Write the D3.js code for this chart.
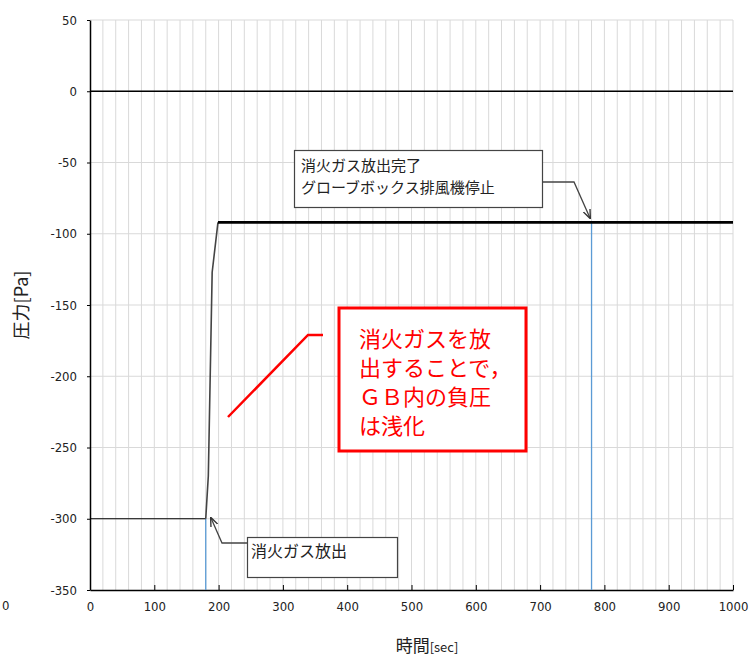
<!DOCTYPE html>
<html>
<head>
<meta charset="utf-8">
<script src="https://cdn.jsdelivr.net/npm/d3@7"></script>
<style>
  body { margin: 0; background: #fff; }
  .num { font-family: "DejaVu Sans Condensed", "Liberation Sans Narrow", "DejaVu Sans", sans-serif; font-stretch: condensed; }
  .jp { font-family: "Noto Sans CJK JP", sans-serif; }
</style>
</head>
<body>
<div id="chart"></div>
<script>
// data
var xTicks = [0, 100, 200, 300, 400, 500, 600, 700, 800, 900, 1000];
var yTicks = [50, 0, -50, -100, -150, -200, -250, -300, -350];

var zeroLine = [[0, 0], [1000, 0]];
var beforeRelease = [[0, -300], [180, -300]];
var releasePhase = [[180, -300], [184, -270], [190, -127], [199, -92]];
var afterRelease = [[199, -92], [1000, -92]];
var markerTimes = [180, 780];
var markerTop = [-300, -92];

var width = 751, height = 658;
var margin = { top: 20, right: 18, bottom: 68, left: 90 };

var svg = d3.select("#chart").append("svg")
    .attr("width", width)
    .attr("height", height);

var x = d3.scaleLinear().domain([0, 1000]).range([margin.left, width - margin.right]);
var y = d3.scaleLinear().domain([-350, 50]).range([height - margin.bottom, margin.top]);

var plain = d => String(d); // hyphen minus, no thousands comma

// grid
svg.append("g")
    .selectAll("line")
    .data(d3.range(20, 1001, 20))
    .enter().append("line")
    .attr("x1", d => x(d)).attr("x2", d => x(d))
    .attr("y1", y(-350)).attr("y2", y(50))
    .attr("stroke", "#d9d9d9")
    .attr("stroke-width", 1);

svg.append("g")
    .selectAll("line")
    .data(d3.range(-300, 51, 50))
    .enter().append("line")
    .attr("x1", x(0)).attr("x2", x(1000))
    .attr("y1", d => y(d)).attr("y2", d => y(d))
    .attr("stroke", "#d9d9d9")
    .attr("stroke-width", 1);

// axes
var xAxis = svg.append("g")
    .attr("transform", "translate(0," + y(-350) + ")")
    .call(d3.axisBottom(x).tickValues(xTicks).tickFormat(plain).tickSize(-5).tickPadding(12).tickSizeOuter(0));
xAxis.select(".domain").attr("stroke", "#000").attr("stroke-width", 1.5);
xAxis.selectAll(".tick line").attr("stroke", "#000");
xAxis.selectAll("text").attr("class", "num").attr("font-size", "13px").attr("fill", "#222");

var yAxis = svg.append("g")
    .attr("transform", "translate(" + x(0) + ",0)")
    .call(d3.axisLeft(y).tickValues(yTicks).tickFormat(plain).tickSize(3).tickPadding(10).tickSizeOuter(0));
yAxis.select(".domain").attr("stroke", "#000").attr("stroke-width", 1.5);
yAxis.selectAll(".tick line").attr("stroke", "#000");
yAxis.selectAll("text").attr("class", "num").attr("font-size", "13px").attr("fill", "#222");

// stray clipped label at the far left
svg.append("text")
    .attr("class", "num")
    .attr("x", 2).attr("y", 610)
    .attr("font-size", "13px").attr("fill", "#222")
    .text("0");

// series
var line = d3.line().x(d => x(d[0])).y(d => y(d[1]));

svg.append("path").datum(zeroLine).attr("d", line)
    .attr("fill", "none").attr("stroke", "#000").attr("stroke-width", 1.3);

svg.selectAll(".marker")
    .data(markerTimes)
    .enter().append("line")
    .attr("class", "marker")
    .attr("x1", d => x(d)).attr("x2", d => x(d))
    .attr("y1", (d, i) => y(markerTop[i])).attr("y2", y(-350))
    .attr("stroke", "#5b9bd5").attr("stroke-width", 1.3);

svg.append("path").datum(beforeRelease).attr("d", line)
    .attr("fill", "none").attr("stroke", "#000").attr("stroke-width", 1.2);
svg.append("path").datum(releasePhase).attr("d", line)
    .attr("fill", "none").attr("stroke", "#444").attr("stroke-width", 1.6);
svg.append("path").datum(afterRelease).attr("d", line)
    .attr("fill", "none").attr("stroke", "#000").attr("stroke-width", 2.6);

// axis titles
svg.append("text")
    .attr("class", "jp")
    .attr("transform", "translate(28,305) rotate(-90)")
    .attr("text-anchor", "middle")
    .attr("font-size", "18px").attr("fill", "#222")
    .text("圧力[Pa]");

var xt = svg.append("text")
    .attr("class", "jp")
    .attr("x", 427).attr("y", 652)
    .attr("text-anchor", "middle")
    .attr("font-size", "17px").attr("fill", "#222");
xt.append("tspan").text("時間");
xt.append("tspan").attr("font-size", "13px").text("[sec]");

// arrow marker
svg.append("defs").append("marker")
    .attr("id", "arrow")
    .attr("viewBox", "0 0 10 10")
    .attr("refX", 9).attr("refY", 5)
    .attr("markerWidth", 7).attr("markerHeight", 7)
    .attr("orient", "auto")
    .append("path")
    .attr("d", "M0,1 L10,5 L0,9")
    .attr("fill", "none").attr("stroke", "#333").attr("stroke-width", 1.5);

// callout 1
svg.append("polyline")
    .attr("points", "542,182 574,182 590,218")
    .attr("fill", "none").attr("stroke", "#444").attr("stroke-width", 1.3)
    .attr("marker-end", "url(#arrow)");
svg.append("rect")
    .attr("x", 294.5).attr("y", 150.5).attr("width", 248).attr("height", 57)
    .attr("fill", "#fff").attr("stroke", "#444").attr("stroke-width", 1.2);
svg.append("text").attr("class", "jp")
    .attr("x", 301).attr("y", 171).attr("font-size", "15px").attr("fill", "#222")
    .text("消火ガス放出完了");
svg.append("text").attr("class", "jp")
    .attr("x", 301).attr("y", 193).attr("font-size", "15px").attr("fill", "#222")
    .text("グローブボックス排風機停止");

// callout 2
svg.append("polyline")
    .attr("points", "247,543 222,543 211,518")
    .attr("fill", "none").attr("stroke", "#444").attr("stroke-width", 1.3)
    .attr("marker-end", "url(#arrow)");
svg.append("rect")
    .attr("x", 247.5).attr("y", 537.5).attr("width", 150).attr("height", 40)
    .attr("fill", "#fff").attr("stroke", "#444").attr("stroke-width", 1.2);
svg.append("text").attr("class", "jp")
    .attr("x", 251).attr("y", 557).attr("font-size", "16px").attr("fill", "#222")
    .text("消火ガス放出");

// red comment
svg.append("polyline")
    .attr("points", "228,417 308,335 323,335")
    .attr("fill", "none").attr("stroke", "#ff0000").attr("stroke-width", 2.5);
svg.append("rect")
    .attr("x", 339).attr("y", 308).attr("width", 187).attr("height", 143)
    .attr("fill", "#fff").attr("stroke", "#ff0000").attr("stroke-width", 3);
var redLines = ["消火ガスを放", "出することで，", "ＧＢ内の負圧", "は浅化"];
svg.selectAll(".red")
    .data(redLines)
    .enter().append("text")
    .attr("class", "jp red")
    .attr("x", 359)
    .attr("y", (d, i) => 347 + i * 29)
    .attr("font-size", "22px").attr("fill", "#ff0000")
    .text(d => d);
</script>
</body>
</html>
